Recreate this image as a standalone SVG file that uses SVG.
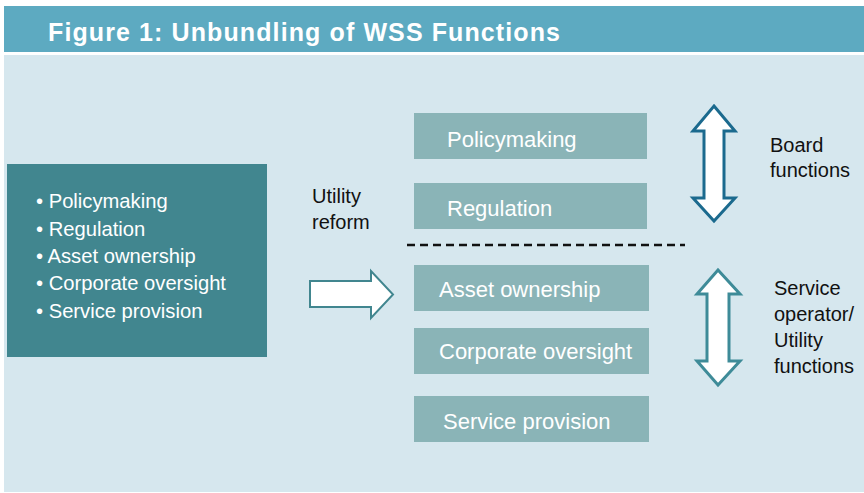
<svg xmlns="http://www.w3.org/2000/svg" width="864" height="493" viewBox="0 0 864 493">
<style>
.lbl{font-family:"Liberation Sans",Arial,sans-serif;font-size:20px;fill:#111}
.w{font-family:"Liberation Sans",Arial,sans-serif;fill:#fff}
.box{fill:#8AB4B7}
.tw{font-size:22px}
</style>
<rect x="0" y="0" width="864" height="493" fill="#fff"/>
<rect x="4" y="6" width="860" height="46" fill="#5DAAC1"/>
<rect x="4" y="55" width="860" height="437" fill="#D6E7EE"/>
<text x="48" y="41" class="w" font-size="25" font-weight="bold" textLength="512">Figure 1: Unbundling of WSS Functions</text>

<g id="source">
<rect x="7" y="164" width="260" height="193" fill="#41868F"/>
<text class="w" font-size="20.2"><tspan x="36" y="208">• Policymaking</tspan><tspan x="36" y="235.5">• Regulation</tspan><tspan x="36" y="263">• Asset ownership</tspan><tspan x="36" y="290">• Corporate oversight</tspan><tspan x="36" y="317.5">• Service provision</tspan></text>
</g>

<g id="reform-label"><text class="lbl"><tspan x="312" y="203">Utility</tspan><tspan x="312" y="229">reform</tspan></text></g>

<g id="policymaking"><rect class="box" x="414" y="113" width="233" height="46"/><text class="w tw" x="447" y="147">Policymaking</text></g>
<g id="regulation"><rect class="box" x="414" y="183" width="233" height="46"/><text class="w tw" x="447" y="216">Regulation</text></g>
<g id="asset"><rect class="box" x="414" y="265" width="235" height="46"/><text class="w tw" x="439" y="297">Asset ownership</text></g>
<g id="corporate"><rect class="box" x="414" y="328" width="235" height="46"/><text class="w tw" x="439" y="359">Corporate oversight</text></g>
<g id="service"><rect class="box" x="414" y="396" width="235" height="46"/><text class="w tw" x="443" y="429">Service provision</text></g>

<g id="board-label"><text class="lbl"><tspan x="770" y="152">Board</tspan><tspan x="770" y="177">functions</tspan></text></g>
<g id="operator-label"><text class="lbl"><tspan x="774" y="295">Service</tspan><tspan x="774" y="321">operator/</tspan><tspan x="774" y="347">Utility</tspan><tspan x="774" y="373">functions</tspan></text></g>

<g id="connectors">
<path d="M310,281 H371 V271 L393,294.5 L371,318 V307 H310 Z" fill="#fff" stroke="#41868F" stroke-width="2" stroke-linejoin="miter"/>
<line x1="407" y1="245" x2="685" y2="245" stroke="#111" stroke-width="2.5" stroke-dasharray="8,5"/>
<path d="M714,106 L735,131 H724 V198 H735 L714,221 L693,198 H704 V131 H693 Z" fill="#fff" stroke="#1B6A8E" stroke-width="3"/>
<path d="M718,270 L740,294 H729 V361 H740 L718,385 L697,361 H707 V294 H697 Z" fill="#fff" stroke="#3E8B98" stroke-width="3"/>
</g>
</svg>
